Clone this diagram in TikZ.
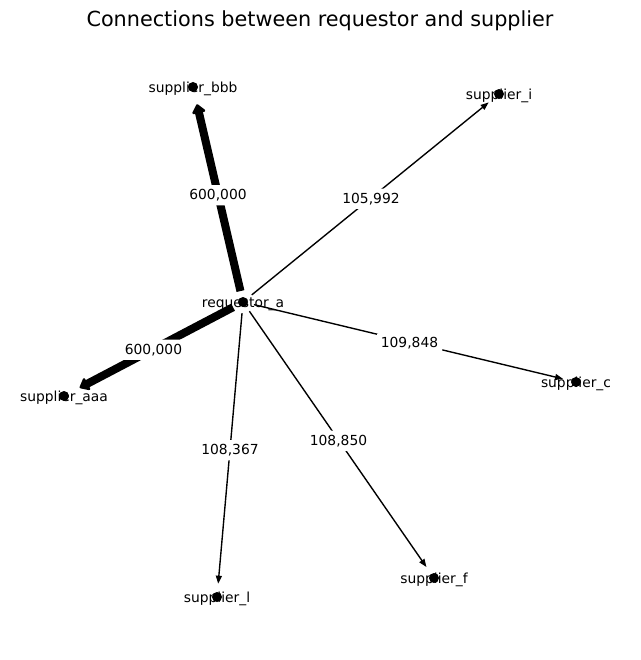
\documentclass[tikz,border=0pt]{standalone}
\usepackage{fontspec}
\setmainfont{DejaVu Sans}
\usetikzlibrary{arrows.meta}
\begin{document}
\begin{tikzpicture}[x=0.01in,y=-0.01in,
  dot/.style={circle,fill=black,draw=none,inner sep=0pt,minimum size=0.1in},
  lbl/.style={font=\fontsize{10}{12}\selectfont,inner sep=0pt,yshift=-1.4pt},
  elbl/.style={font=\fontsize{10}{12}\selectfont,fill=white,inner sep=3pt,rounded corners=2pt,yshift=-0.6pt},
  thinedge/.style={line width=1pt,-{Triangle[length=5.8pt,width=4.3pt]},shorten <=4.3pt,shorten >=5.8pt},
  thickedge/.style={line width=5.8pt,-{Triangle[round,length=7pt,width=11pt,line width=2pt]},shorten <=4.3pt,shorten >=9pt}
]
\useasboundingbox (0,0) rectangle (640,660);
\node[font=\fontsize{15}{18}\selectfont,inner sep=0pt] (title) at (320,21) {Connections between requestor and supplier};

\node[dot] (r) at (243,302) {};
\node[dot] (b) at (193,87) {};
\node[dot] (i) at (499,94) {};
\node[dot] (a) at (64,396) {};
\node[dot] (c) at (576,382) {};
\node[dot] (l) at (217,597) {};
\node[dot] (f) at (434,578) {};

\node[lbl] (rt) at (r) {requestor\_a};
\node[lbl] (bt) at (b) {supplier\_bbb};
\node[lbl] (it) at (i) {supplier\_i};
\node[lbl] (at) at (a) {supplier\_aaa};
\node[lbl] (ct) at (c) {supplier\_c};
\node[lbl] (lt) at (l) {supplier\_l};
\node[lbl] (ft) at (f) {supplier\_f};

\draw[thickedge] (r) -- node[elbl] (e1) {600,000} (b);
\draw[thickedge] (r) -- node[elbl] (e2) {600,000} (a);
\draw[thinedge] (r) -- node[elbl] (e3) {105,992} (i);
\draw[thinedge] (r) -- node[elbl] (e4) {109,848} (c);
\draw[thinedge] (r) -- node[elbl] (e5) {108,367} (l);
\draw[thinedge] (r) -- node[elbl] (e6) {108,850} (f);
\end{tikzpicture}
\end{document}
